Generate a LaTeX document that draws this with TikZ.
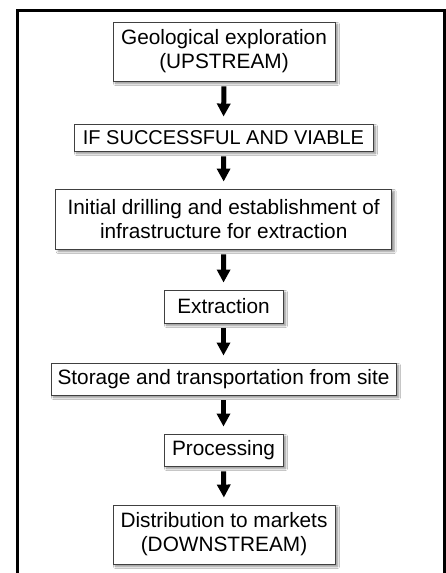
\documentclass[tikz,border=0pt]{standalone}
\usepackage{fontspec}
\setmainfont{Liberation Sans}
\usetikzlibrary{arrows.meta,shadows.blur}
\begin{document}
\begin{tikzpicture}[x=1pt,y=-1pt,
  stepbox/.style={draw=black!75, line width=0.9pt, fill=white, inner sep=0pt,
    align=center, font=\fontsize{20.8}{24}\selectfont,
    blur shadow={shadow xshift=2.5pt, shadow yshift=-2.5pt, shadow blur steps=6, shadow blur radius=2pt, shadow opacity=45}},
  flow/.style={line width=5pt, -{Triangle[width=13pt,length=13pt]}, shorten <=5pt, shorten >=7pt}]
\useasboundingbox (0,0) rectangle (446,573);
\fill[white] (0,0) rectangle (446,573);
\draw[line width=3pt] (17,590) -- (17,10.5) -- (444.5,10.5) -- (444.5,590);
\node[stepbox, minimum width=222pt, minimum height=59pt] (n1) at (224,51.5) {Geological exploration\\(UPSTREAM)};
\node[stepbox, minimum width=299pt, minimum height=27pt, font=\fontsize{20}{24}\selectfont] (n2) at (223.5,137.5) {IF SUCCESSFUL AND VIABLE};
\node[stepbox, minimum width=336pt, minimum height=60pt] (n3) at (223.7,219) {Initial drilling and establishment of\\infrastructure for extraction};
\node[stepbox, minimum width=119pt, minimum height=33pt] (n4) at (223.5,306.5) {Extraction};
\node[stepbox, minimum width=345pt, minimum height=32pt] (n5) at (223.5,379) {Storage and transportation from site};
\node[stepbox, minimum width=119pt, minimum height=32pt] (n6) at (223.5,450) {Processing};
\node[stepbox, minimum width=222pt, minimum height=59pt] (n7) at (224,534.5) {Distribution to markets\\(DOWNSTREAM)};
\foreach \a/\b in {n1/n2,n2/n3,n3/n4,n4/n5,n5/n6,n6/n7}
  \draw[flow] (\a.south) -- (\b.north);
\end{tikzpicture}
\end{document}
